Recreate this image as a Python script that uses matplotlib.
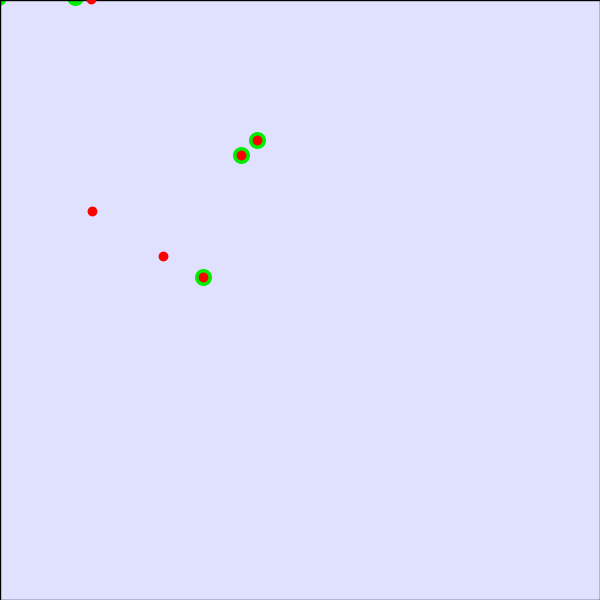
import matplotlib
matplotlib.use('Agg')
import matplotlib.pyplot as plt

# point positions (x to the right, y downward)
green_x = [-2, 75, 241, 257, 203]
green_y = [-3, -3, 155, 140, 277]
red_x = [91, 241, 257, 92, 163, 203]
red_y = [-1, 155, 140, 211, 256, 277]

fig = plt.figure(figsize=(6, 6), dpi=100)
ax = fig.add_axes([0, 0, 1, 1])
ax.set_facecolor('#e0e0ff')

ax.scatter(green_x, green_y, s=150, color='#00ee00', linewidths=0, zorder=2)
ax.scatter(red_x, red_y, s=50, color='#ff0000', linewidths=0, zorder=3)

ax.set_xlim(0, 600)
ax.set_ylim(600, 0)
ax.set_xticks([])
ax.set_yticks([])
for sp in ax.spines.values():
    sp.set_color('black')
    sp.set_linewidth(1)

plt.savefig('out.png', dpi=100)
